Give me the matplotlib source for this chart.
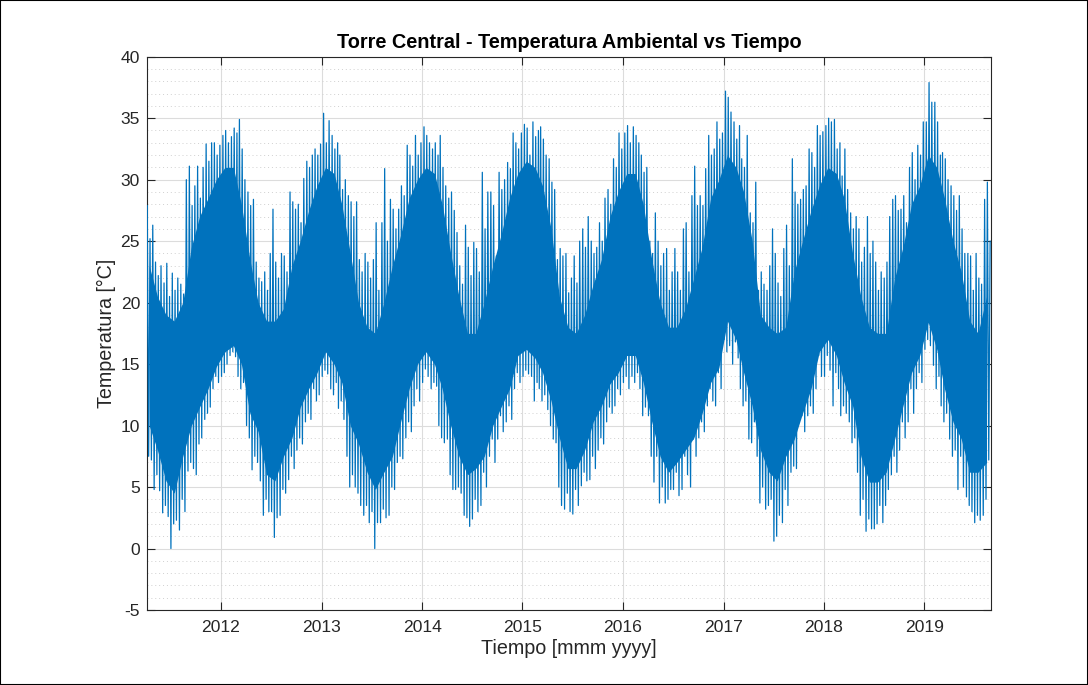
import numpy as np
import pandas as pd
import matplotlib
matplotlib.use("Agg")
import matplotlib.pyplot as plt
import matplotlib.dates as mdates
from matplotlib.ticker import MultipleLocator
from matplotlib.patches import Rectangle

plt.rcParams['font.family'] = ['Liberation Sans', 'DejaVu Sans']
plt.rcParams['axes.unicode_minus'] = False

# monthly records, Apr 2011 .. Aug 2019
meses = pd.date_range("2011-04-01", "2019-08-01", freq="MS")
t_inicio = pd.Timestamp("2011-04-07")
t_fin = pd.Timestamp("2019-08-31")

# dense band (bulk of the hourly readings), one value per month [°C]
nucleo_sup = [
    23, 20.5, 19, 18.5, 20, 24.5, 27, 28.5, 30,                  # 2011
    31, 31, 28, 23.5, 20, 18.5, 18.5, 19.5, 23, 25, 27.5, 29.5,  # 2012
    31, 30.5, 28, 24, 20, 18, 17.5, 20, 23, 25.5, 28.5, 30,      # 2013
    31, 30.5, 28, 24, 20.5, 17.5, 17.5, 20, 23, 25.5, 28.5, 30.5,  # 2014
    31.5, 31, 29.5, 26, 20.5, 18, 17.5, 19, 21.5, 23.5, 27, 29,  # 2015
    30.5, 30.5, 28, 23.5, 20, 18, 18, 19.5, 22, 24.5, 28.5, 30,  # 2016
    32, 31, 29, 25, 19, 18, 17.5, 18, 22.5, 25, 27.5, 29.5,      # 2017
    31, 30.5, 28.5, 24, 20.5, 18, 17.5, 17.5, 22, 24.5, 28, 29.5,  # 2018
    32, 31, 28.5, 25, 22.5, 18.5, 17.5, 20.5,                    # 2019
]
nucleo_inf = [
    10, 8, 5.5, 4.5, 7.5, 10, 11.5, 13, 14.8,                    # 2011
    16, 16.5, 15, 11, 9.5, 6, 5.5, 7.5, 9, 11.5, 13, 14.3,       # 2012
    16, 15, 13.5, 10, 8.5, 6.2, 4.8, 6.2, 7.5, 10.3, 13, 15,     # 2013
    16, 15, 13, 10, 7.5, 6, 6.5, 7.5, 10, 11.5, 13, 15.7,        # 2014
    16.2, 15.5, 14.3, 12, 9, 6.5, 6.5, 8, 10.3, 11.6, 13.4, 14.3,  # 2015
    15.7, 15.7, 13.5, 10.3, 7.5, 6.2, 7, 8, 9, 11, 13.5, 14.7,   # 2016
    18.5, 17, 14.3, 11.6, 8, 6.2, 5.5, 7.5, 8.9, 11, 13, 16,     # 2017
    17, 15.7, 13.5, 11.6, 7.5, 5.4, 5.4, 6.2, 8.9, 11.6, 14.3, 15.7,  # 2018
    18.4, 16.2, 13, 10.3, 8.9, 6.2, 6.2, 7,                      # 2019
]

# extreme readings, three per month [°C]
pico_max = [
    27.9, 25.2, 26.3, 23.3, 22.2, 23.0, 21.6, 23.2, 20.5, 22.4, 21.0, 22.0,
    21.5, 20.7, 30.0, 31.1, 27.9, 29.5, 31.1, 28.5, 31.0, 32.9, 31.5, 33.0,
    33.0, 32.0, 32.8,
    # 2012
    33.6, 34.0, 33.0, 33.5, 34.2, 33.8, 34.9, 32.5, 30.0, 29.0, 27.9, 28.4,
    23.3, 22.0, 21.7, 22.5, 21.0, 24.0, 27.6, 23.3, 22.0, 24.0, 23.8, 22.5,
    29.0, 28.2, 27.6, 28.0, 26.5, 30.1, 31.5, 31.0, 32.0, 32.5, 32.0, 32.9,
    # 2013
    35.4, 33.0, 34.8, 33.6, 32.5, 33.0, 32.0, 29.2, 30.0, 28.7, 28.2, 27.0,
    28.2, 23.5, 22.5, 24.0, 23.3, 22.0, 23.5, 26.5, 21.0, 26.5, 30.9, 25.0,
    28.4, 27.6, 26.0, 27.6, 29.5, 28.7, 32.8, 32.0, 31.1, 33.6, 32.0, 33.0,
    # 2014
    34.3, 33.6, 33.0, 32.5, 33.0, 32.0, 33.6, 31.0, 29.5, 28.5, 29.0, 27.5,
    25.7, 23.0, 21.5, 26.3, 24.5, 22.2, 24.9, 24.4, 22.5, 30.6, 26.0, 29.0,
    29.0, 27.9, 23.8, 30.6, 29.2, 30.0, 31.4, 30.9, 33.8, 33.0, 32.5, 33.8,
    # 2015
    34.5, 34.2, 32.0, 34.7, 33.5, 34.0, 34.3, 33.3, 32.0, 31.7, 29.8, 29.2,
    23.5, 24.4, 23.8, 24.0, 20.8, 22.0, 23.8, 21.6, 25.0, 26.0, 24.5, 27.0,
    25.0, 24.0, 24.5, 26.5, 25.0, 28.5, 29.2, 28.0, 31.7, 31.0, 33.8, 32.5,
    # 2016
    33.8, 34.4, 33.0, 34.3, 33.6, 33.0, 32.0, 30.6, 31.0, 25.0, 24.0, 27.3,
    25.0, 23.0, 24.0, 24.4, 21.0, 22.5, 24.4, 22.5, 21.0, 26.0, 26.5, 22.5,
    28.7, 31.1, 27.9, 28.7, 27.9, 30.9, 33.6, 32.0, 32.5, 34.7, 33.3, 33.8,
    # 2017
    37.2, 36.7, 35.5, 34.7, 33.3, 34.4, 31.7, 31.0, 33.6, 27.3, 26.5, 29.8,
    21.0, 22.5, 21.5, 21.0, 23.0, 26.0, 24.0, 21.6, 20.5, 24.4, 26.3, 23.0,
    31.7, 29.0, 28.0, 28.4, 29.2, 29.5, 32.5, 32.2, 31.0, 34.4, 33.6, 33.9,
    # 2018
    34.4, 35.0, 34.7, 34.9, 32.5, 33.0, 30.3, 32.5, 29.2, 27.3, 26.0, 27.0,
    26.0, 23.3, 24.5, 27.0, 24.0, 25.0, 23.3, 21.0, 22.5, 22.0, 23.3, 27.0,
    28.4, 28.7, 27.5, 27.6, 28.7, 26.5, 31.0, 32.2, 30.0, 32.8, 32.0, 34.7,
    # 2019
    34.7, 37.9, 36.3, 36.3, 34.7, 32.0, 32.2, 31.7, 30.0, 29.5, 28.7, 27.5,
    28.7, 26.0, 24.0, 24.0, 23.8, 21.0, 24.0, 22.0, 21.5, 28.4, 29.8, 25.0,
]
pico_min = [
    8.0, 7.5, 7.2, 4.8, 6.0, 4.7, 2.9, 3.5, 2.6, 0.0, 2.0, 2.3,
    1.5, 4.0, 3.0, 6.3, 7.0, 6.5, 6.0, 8.5, 9.0, 10.5, 11.0, 11.5,
    13.0, 14.0, 13.5,
    # 2012
    14.0, 14.3, 15.0, 15.7, 16.0, 15.6, 14.0, 13.0, 13.5, 10.0, 9.0, 6.4,
    7.5, 7.0, 5.5, 2.7, 4.0, 3.0, 3.0, 0.9, 2.5, 2.7, 4.8, 4.5,
    5.6, 7.5, 6.5, 8.0, 9.0, 8.5, 10.3, 11.0, 10.5, 13.0, 12.0, 12.5,
    # 2013
    14.0, 14.5, 14.2, 13.0, 12.5, 13.5, 11.4, 12.0, 10.5, 7.5, 5.0, 6.0,
    5.0, 4.5, 3.5, 2.7, 3.5, 2.1, 3.0, 0.0, 2.1, 2.1, 3.2, 2.5,
    2.7, 5.0, 4.8, 7.0, 7.5, 7.3, 9.0, 10.3, 9.5, 11.6, 13.0, 12.0,
    # 2014
    13.5, 14.6, 14.0, 13.0, 13.5, 13.2, 10.0, 9.0, 8.6, 8.9, 6.0, 4.8,
    4.8, 5.0, 4.5, 2.7, 2.5, 1.8, 2.4, 4.0, 3.0, 3.5, 6.2, 5.0,
    7.5, 8.9, 7.0, 8.9, 10.8, 9.5, 10.3, 11.6, 10.5, 13.0, 14.3, 13.5,
    # 2015
    14.0, 14.5, 14.2, 14.0, 12.0, 13.5, 13.0, 12.0, 12.5, 11.3, 10.0, 8.9,
    8.6, 5.0, 3.5, 3.2, 4.5, 3.0, 2.8, 4.8, 3.5, 5.1, 6.2, 5.5,
    5.6, 7.5, 6.5, 8.0, 9.0, 8.5, 10.3, 11.5, 11.0, 11.6, 13.0, 12.5,
    # 2016
    13.5, 14.0, 13.0, 14.0, 13.5, 14.3, 13.0, 10.8, 11.5, 10.8, 7.5, 5.4,
    7.5, 3.7, 5.0, 3.7, 4.0, 4.8, 4.8, 6.2, 4.3, 4.8, 7.5, 6.0,
    5.0, 8.9, 7.5, 9.0, 10.3, 9.5, 11.6, 13.0, 12.0, 11.6, 14.3, 13.0,
    # 2017
    17.0, 16.0, 16.5, 15.0, 16.8, 15.5, 13.0, 11.6, 12.0, 8.9, 8.6, 10.3,
    7.5, 3.7, 5.0, 3.2, 3.5, 4.0, 0.6, 1.0, 2.7, 2.1, 4.8, 3.5,
    6.2, 6.7, 6.5, 10.3, 10.8, 9.5, 10.8, 11.6, 11.0, 13.0, 15.7, 14.0,
    # 2018
    14.0, 15.7, 14.5, 11.6, 14.3, 13.0, 10.8, 11.6, 11.0, 10.3, 8.6, 9.0,
    6.2, 2.7, 4.0, 1.4, 2.4, 1.6, 1.6, 2.0, 3.5, 2.1, 3.5, 4.8,
    6.0, 7.5, 6.2, 8.0, 10.3, 9.0, 10.3, 13.0, 11.0, 13.0, 14.3, 13.5,
    # 2019
    16.2, 17.0, 16.5, 14.9, 13.0, 14.0, 11.6, 10.3, 11.0, 8.9, 7.5, 8.0,
    4.8, 7.5, 5.0, 4.2, 3.5, 3.0, 2.1, 2.7, 2.3, 2.7, 4.0, 7.2,
]

azul = "#0072BD"
gris = "#262626"

# sample times: lows and highs alternate inside every month
t_min = [m + pd.Timedelta(days=d) for m in meses for d in (2, 12, 22)]
t_max = [m + pd.Timedelta(days=d) for m in meses for d in (7, 17, 27)]
t = np.empty(2 * len(t_min), dtype="datetime64[ns]")
t[0::2] = np.array(t_min, dtype="datetime64[ns]")
t[1::2] = np.array(t_max, dtype="datetime64[ns]")
temp = np.empty(len(t))
temp[0::2] = pico_min
temp[1::2] = pico_max
t_nucleo = meses + pd.Timedelta(days=14)

fig = plt.figure(figsize=(10.88, 6.85), dpi=100)
ax = fig.add_axes([0.1351, 0.1095, 0.7757, 0.8077])

ax.fill_between(t_nucleo, nucleo_inf, nucleo_sup, color=azul, lw=0, zorder=2)
ax.plot(t, temp, color=azul, lw=0.9, zorder=3)

ax.set_xlim(t_inicio, t_fin)
ax.set_ylim(-5, 40)
ax.yaxis.set_major_locator(MultipleLocator(5))
ax.yaxis.set_minor_locator(MultipleLocator(1))
ax.xaxis.set_major_locator(mdates.YearLocator())
ax.xaxis.set_major_formatter(mdates.DateFormatter("%Y"))

ax.grid(True, which="major", color="#dcdcdc", lw=0.8, zorder=0)
ax.grid(True, which="minor", axis="y", color="#d0d0d0", lw=0.7,
        linestyle=(0, (1, 3)), zorder=0)
ax.set_axisbelow(True)

ax.tick_params(which="major", direction="in", length=6, width=0.8,
               top=True, right=True, colors=gris, labelsize=12.6)
ax.tick_params(which="minor", length=0, top=True, right=True)
ax.tick_params(axis="x", pad=7)
ax.tick_params(axis="y", pad=5)
for s in ax.spines.values():
    s.set_color(gris)
    s.set_linewidth(0.8)

ax.set_title("Torre Central - Temperatura Ambiental vs Tiempo",
             fontsize=14.3, fontweight="bold", color="black", pad=6)
ax.set_xlabel("Tiempo [mmm yyyy]", fontsize=14.2, color=gris, labelpad=3)
ax.set_ylabel("Temperatura [°C]", fontsize=14.2, color=gris, labelpad=3)

fig.patches.append(Rectangle((0, 0), 1, 1, transform=fig.transFigure,
                             fill=False, edgecolor="black", lw=1.5))

fig.savefig("out.png", dpi=100)
